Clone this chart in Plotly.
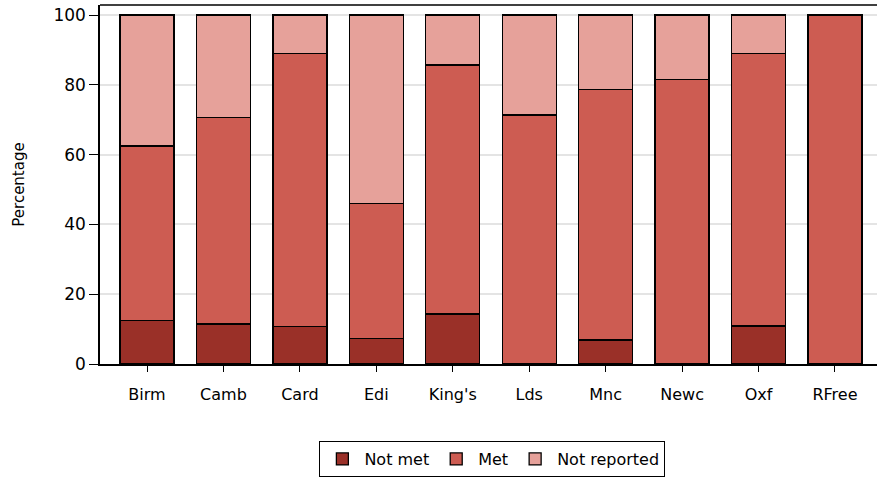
import plotly.graph_objects as go

categories = ["Birm", "Camb", "Card", "Edi", "King's", "Lds", "Mnc", "Newc", "Oxf", "RFree"]
not_met = [12.5, 11.5, 10.7, 7.4, 14.3, 0, 6.9, 0, 10.9, 0]
met = [50.0, 59.2, 78.3, 38.6, 71.4, 71.4, 71.7, 81.6, 78.1, 100.0]
not_reported = [round(100 - a - b, 1) for a, b in zip(not_met, met)]

series = [
    ("Not met", not_met, "#9A3028"),
    ("Met", met, "#CD5C52"),
    ("Not reported", not_reported, "#E6A19A"),
]

fig = go.Figure()
for name, vals, color in series:
    fig.add_trace(go.Bar(
        x=categories, y=vals, name=name,
        marker=dict(color=color, line=dict(color="#000000", width=1.3)),
        width=0.707,
    ))

font = "DejaVu Sans, Liberation Sans, sans-serif"
fig.update_layout(
    barmode="stack",
    width=877, height=477,
    margin=dict(l=100, r=0, t=5, b=113),
    plot_bgcolor="white", paper_bgcolor="white",
    font=dict(family=font, size=16, color="#000000"),
    showlegend=True,
    legend=dict(
        orientation="h", x=0.505, xanchor="center", y=-0.215, yanchor="top",
        bordercolor="#000000", borderwidth=1, font=dict(size=16),
        traceorder="normal", itemwidth=34,
    ),
    xaxis=dict(
        range=[-0.615, 9.55],
        automargin=False,
        showline=True, linecolor="#000000", linewidth=1.5,
        ticks="outside", ticklen=6, tickcolor="#000000",
        ticklabelstandoff=9, tickfont=dict(size=16),
    ),
    yaxis=dict(
        range=[0, 102.9],
        automargin=False,
        tickvals=[0, 20, 40, 60, 80, 100],
        showline=True, linecolor="#000000", linewidth=1.5,
        ticks="outside", ticklen=9, tickcolor="#000000",
        showgrid=True, gridcolor="#E4E4E4", gridwidth=1.5,
        zeroline=False,
        tickfont=dict(size=17),
        title=dict(text="Percentage", font=dict(size=15), standoff=25),
    ),
)
fig.add_shape(type="line", xref="paper", yref="paper", x0=0, x1=1, y0=1, y1=1,
              line=dict(color="#000000", width=1.5))
fig.write_html(
    "out.html",
    config={"displayModeBar": False},
    post_script="document.body.style.margin='0';document.body.style.overflow='hidden';",
)
